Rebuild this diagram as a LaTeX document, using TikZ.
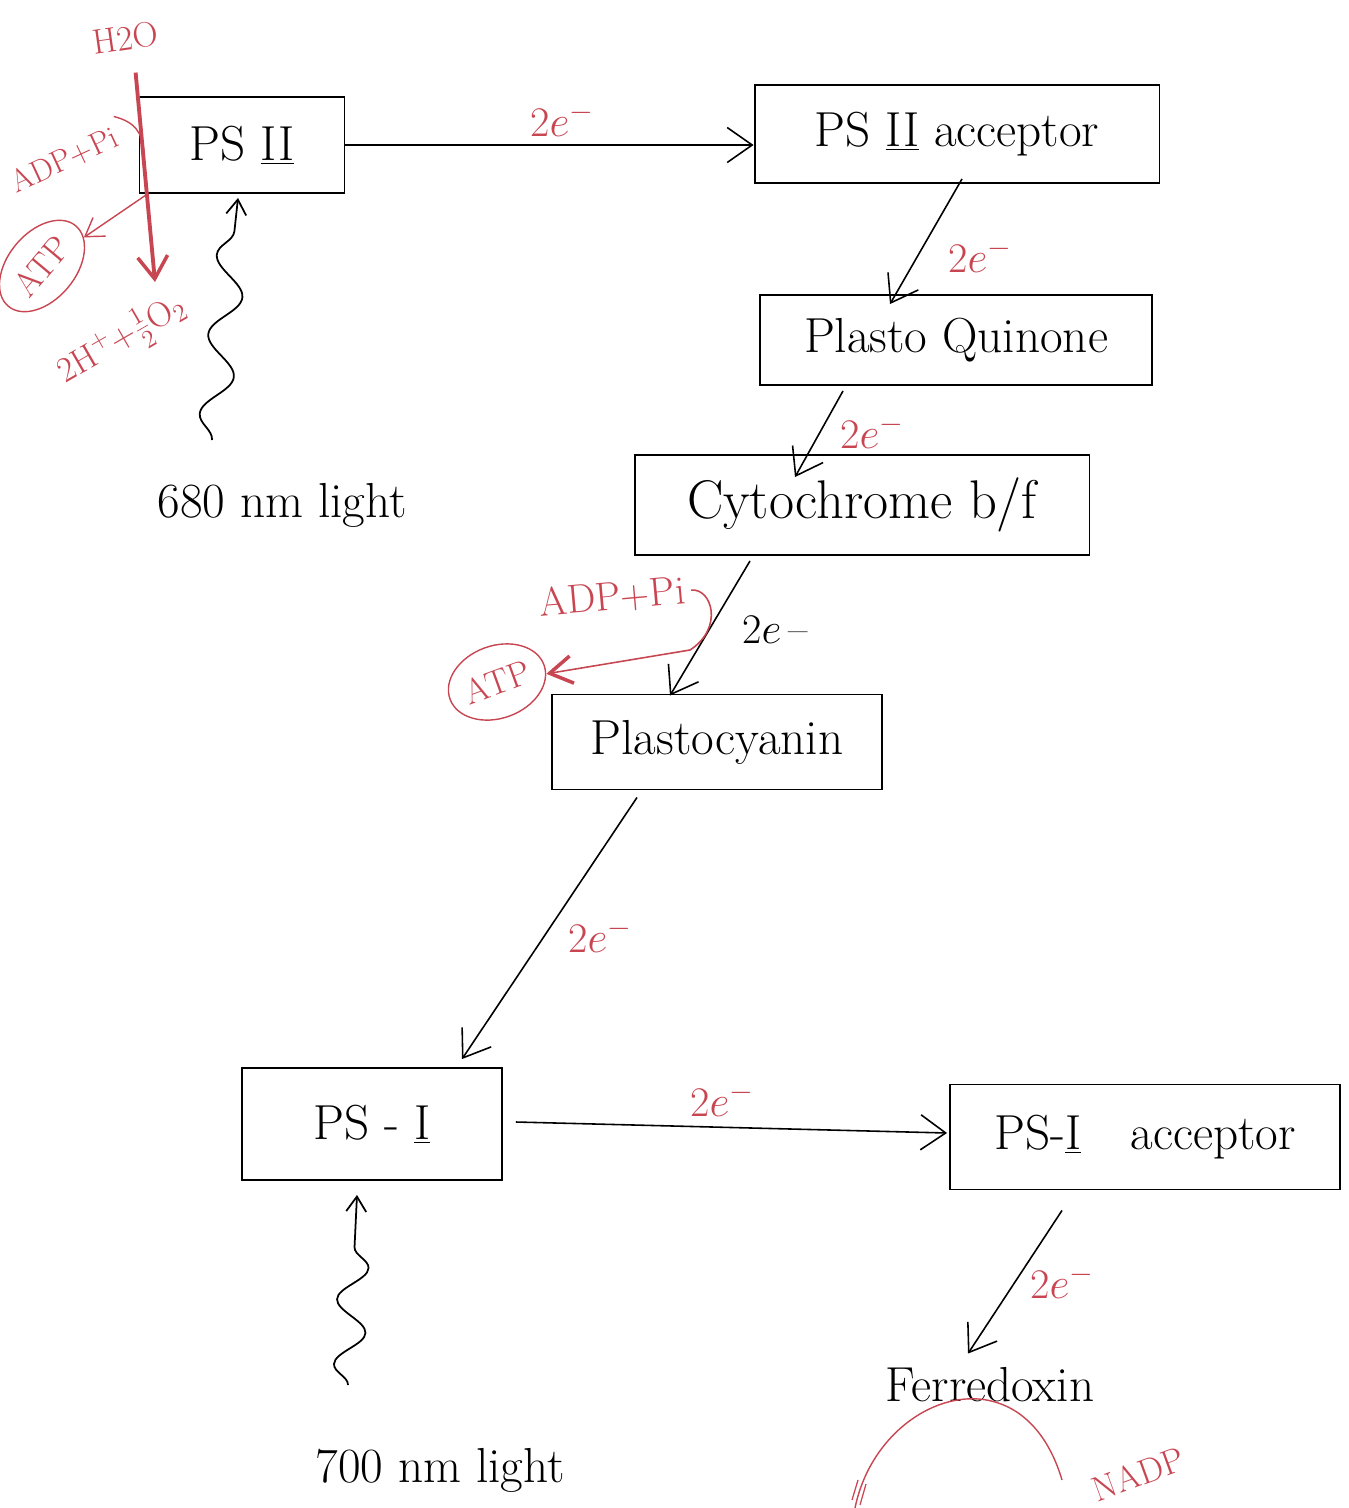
\documentclass[tikz,border=0pt]{standalone}
\usetikzlibrary{arrows.meta,calc,decorations.pathmorphing,shapes.geometric}
\definecolor{hred}{RGB}{200,70,82}
\begin{document}
\begin{tikzpicture}[x=0.02cm,y=-0.02cm,
  box/.style={draw, line width=1.1pt, inner sep=0pt, font=\fontsize{28}{32}\selectfont},
  big/.style={font=\fontsize{28}{32}\selectfont},
  arr/.style={line width=0.9pt, -{Straight Barb[length=0.5cm,width=0.7cm,line width=0.9pt]}},
  elab/.style={text=hred, font=\fontsize{24}{28}\selectfont},
  rtext/.style={text=hred, font=\fontsize{20}{24}\selectfont},
  ratp/.style={draw=hred, text=hred, ellipse, line width=0.8pt, inner sep=0pt, font=\fontsize{20}{24}\selectfont},
  redarr/.style={draw=hred, line width=0.8pt, -{Straight Barb[length=0.35cm,width=0.45cm,line width=0.8pt]}},
  wavearr/.style={line width=1pt, decorate, decoration={snake, amplitude=0.3cm, segment length=1.6cm, post length=0.5cm}, -{Straight Barb[length=0.3cm,width=0.4cm,line width=1pt]}},
]
\useasboundingbox (0,0) rectangle (1349,1508);

% boxes
\node[box, minimum width=4.1cm, minimum height=1.92cm] (ps2) at (242,145) {PS \underline{II}};
\node[box, minimum width=8.1cm, minimum height=1.96cm] (acc2) at (957,134) {PS \underline{II} acceptor};
\node[box, minimum width=7.84cm, minimum height=1.8cm] (pq) at (956,340) {Plasto Quinone};
\node[box, minimum width=9.1cm, minimum height=2cm, font=\fontsize{31}{34}\selectfont] (cyt) at (862,505) {Cytochrome b/f};
\node[box, minimum width=6.6cm, minimum height=1.9cm] (pc) at (717,742) {Plastocyanin};
\node[box, minimum width=5.2cm, minimum height=2.24cm] (ps1) at (372,1124) {PS - \underline{I}};
\node[box, minimum width=7.8cm, minimum height=2.1cm] (acc1) at (1145,1137) {PS-\underline{I}\quad acceptor};
\node[big] (fd) at (990,1385) {Ferredoxin};
\node[big] (l680) at (282,505) {680 nm light};
\node[big] (l700) at (440,1470) {700 nm light};

% electron transfer arrows
\draw[arr] (ps2.east) -- ($(acc2.west)+(0,11)$);
\node[elab] (e1) at (562,120) {2$e^{-}$};
\draw[arr] ($(acc2.south)+(5,-5)$) -- ($(pq.north)+(-66,10)$);
\node[elab] (e2) at (980,256) {2$e^{-}$};
\draw[arr] ($(pq.south)+(-113,5)$) -- ($(cyt.north)+(-67,23)$);
\node[elab] (e3) at (872,432) {2$e^{-}$};
\draw[arr] ($(cyt.south)+(-112,5)$) -- ($(pc.north)+(-47,2)$);
\node[font=\fontsize{24}{28}\selectfont] (e4) at (775,630) {2$e$\,--};
\draw[arr] ($(pc.south)+(-80,7)$) -- ($(ps1.north)+(90,-8)$);
\node[elab] (e5) at (600,936) {2$e^{-}$};
\draw[arr] ($(ps1.east)+(13,-2)$) -- ($(acc1.west)+(-2,-4)$);
\node[elab] (e6) at (722,1100) {2$e^{-}$};
\draw[arr] ($(acc1.south)+(-83,20)$) -- ($(fd.north)+(-22,-8)$);
\node[elab] (e7) at (1062,1282) {2$e^{-}$};

% light
\coordinate (w1s) at (212,440);
\draw[wavearr] (w1s) -- ($(ps2.south)+(-4,4)$);
\coordinate (w2s) at (348,1385);
\draw[wavearr, decoration={snake, amplitude=0.3cm, segment length=1.3cm, post length=0.4cm}] (w2s) -- ($(ps1.south)+(-15,14)$);

% water splitting (top left)
\node[rtext, rotate=8] (h2o) at (125,38) {H2O};
\coordinate (o2top) at (155,282);
\draw[hred, line width=2.2pt, -{Straight Barb[length=0.45cm,width=0.6cm,line width=2pt]}] ($(h2o.south)+(8,16)$) -- (o2top);
\node[rtext, rotate=30] (prod) at (122,340) {2H$^{+}$+$\frac{1}{2}$O$_2$};
\node[rtext, rotate=25, font=\fontsize{18}{22}\selectfont] (adp1) at (64,160) {ADP+Pi};
\node[ratp, rotate=50, minimum width=2.1cm, minimum height=1.35cm] (atp1) at (42,266) {ATP};
\draw[hred, line width=0.8pt] (adp1.north east) .. controls (135,122) and (142,132) .. (144,152);
\coordinate (c1) at (146,195);
\draw[redarr] (c1) -- (atp1);

% middle photophosphorylation
\node[rtext, rotate=5, font=\fontsize{23}{26}\selectfont] (adp2) at (612,597) {ADP+Pi};
\node[ratp, rotate=20, minimum width=2cm, minimum height=1.45cm] (atp2) at (497,682) {ATP};
\draw[draw=hred, line width=0.9pt, -{Straight Barb[length=0.45cm,width=0.55cm,line width=2pt]}]
  (adp2.east) .. controls (712,588) and (724,628) .. (690,650) -- (atp2);

% ferredoxin -> NADP (partly cut off)
\draw[hred, line width=0.8pt] (855,1508) .. controls (878,1395) and (1022,1345) .. (1062,1480);
\draw[hred, line width=0.7pt] (852,1500) -- (858,1480) (860,1505) -- (866,1484);
\node[rtext, rotate=20] (nadp) at (1138,1474) {NADP};
\end{tikzpicture}
\end{document}
